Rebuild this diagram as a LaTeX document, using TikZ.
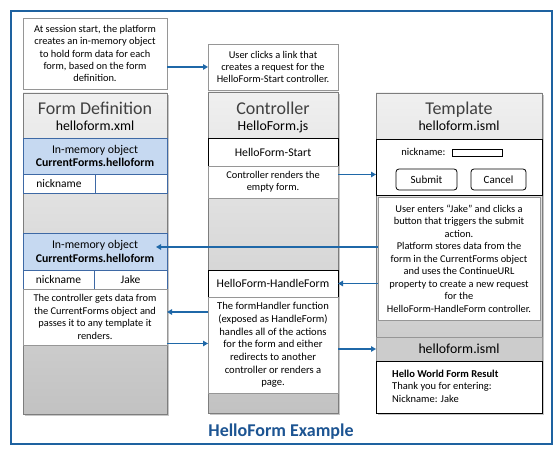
\documentclass[tikz,border=0pt]{standalone}
\usepackage{fontspec}
\setmainfont{Carlito}
\usetikzlibrary{arrows.meta,calc}
\definecolor{frameblue}{RGB}{30,98,160}
\definecolor{arrowblue}{RGB}{31,104,168}
\definecolor{captblue}{RGB}{28,84,146}
\definecolor{lightblue}{RGB}{198,217,241}
\definecolor{blueedge}{RGB}{62,105,165}
\definecolor{coledge}{RGB}{125,125,125}
\definecolor{boxedge}{RGB}{150,150,150}
\definecolor{hdrtext}{RGB}{64,64,64}
\newcommand\mybox[7]{\node[#6, anchor=north west, outer sep=0pt, inner sep=0pt,
  minimum width={(#4)-(#2)}, minimum height={(#5)-(#3)}] (#1) at (#2,#3) {#7};}
\begin{document}
\begin{tikzpicture}[x=1pt,y=-1pt,
  txt/.style={align=center, font=\fontsize{10.4}{12.4}\selectfont},
  wbox/.style={draw=boxedge, line width=0.7pt, fill=white, txt},
  bbox/.style={draw=blueedge, line width=0.8pt, fill=lightblue, align=center, font=\fontsize{11.8}{13.2}\selectfont},
  bcell/.style={draw=blueedge, line width=0.8pt, fill=white, font=\fontsize{11.5}{13}\selectfont},
  kbox/.style={draw=black, line width=0.9pt, fill=white, font=\fontsize{11.8}{13}\selectfont},
  column/.style={draw=coledge, line width=0.8pt, top color=black!6, bottom color=black!24},
  colshadow/.style={fill=black!22, draw=none},
  hdr/.style={anchor=base, text=hdrtext, font=\fontsize{18}{20}\selectfont},
  hdrsub/.style={anchor=base, font=\fontsize{13.8}{15}\selectfont},
  btn/.style={draw=black, line width=0.8pt, rounded corners=3pt, fill=white, font=\fontsize{11}{13}\selectfont},
  arr/.style={draw=arrowblue, line width=1.3pt, -{Triangle[length=5pt,width=5.5pt]}}
]
\useasboundingbox (0,0) rectangle (560,454);
% outer frame
\mybox{frame}{11}{11}{552}{444}{draw=frameblue, line width=2.2pt}{}
\node[anchor=base, text=captblue, font=\bfseries\fontsize{18}{20}\selectfont] (caption) at (281,437) {HelloForm Example};

% top text boxes
\mybox{tl}{23}{18}{167}{89}{wbox}{At session start, the platform\\creates an in-memory object\\to hold form data for each\\form, based on the form\\definition.}
\mybox{ctop}{208}{44}{338}{90}{wbox}{User clicks a link that\\creates a request for the\\HelloForm-Start controller.}

% column shadows
\mybox{fdsh}{25}{95}{169}{416}{colshadow}{}
\mybox{csh}{210}{94}{340}{415}{colshadow}{}
\mybox{tsh}{378}{95}{544}{415}{colshadow}{}

% columns
\mybox{fdcol}{23}{93}{167}{414}{column}{}
\mybox{ccol}{208}{92}{338}{413}{column}{}
\mybox{tcol}{376}{93}{542}{413}{column}{}

% ---------- Form Definition ----------
\node[hdr] (fdtitle) at (95,115) {Form Definition};
\node[hdrsub] (fdfile) at (95,131) {helloform.xml};
\mybox{fdmem1}{23}{138}{167}{174}{bbox}{In-memory object\\\textbf{CurrentForms.helloform}}
\mybox{fdn1a}{23}{174}{95}{193}{bcell}{nickname}
\mybox{fdn1b}{95}{174}{167}{193}{bcell}{}
\mybox{fdmem2}{23}{233}{167}{270}{bbox}{In-memory object\\\textbf{CurrentForms.helloform}}
\mybox{fdn2a}{23}{270}{94}{289}{bcell}{nickname}
\mybox{fdn2b}{94}{270}{167}{289}{bcell}{Jake}
\mybox{fdtext}{23}{289}{167}{345}{wbox}{The controller gets data from\\the CurrentForms object and\\passes it to any template it\\renders.}

% ---------- Controller ----------
\node[hdr] (ctitle) at (273,115) {Controller};
\node[hdrsub] (cfile) at (273,131) {HelloForm.js};
\mybox{cstart}{208}{138}{338}{166}{kbox}{HelloForm-Start}
\mybox{crender}{208}{166}{338}{198}{wbox}{Controller renders the\\empty form.}
\mybox{chandle}{208}{270}{338}{297}{kbox}{HelloForm-HandleForm}
\mybox{ctext}{208}{297}{338}{393}{wbox, font=\fontsize{10.6}{12.7}\selectfont}{The formHandler function\\(exposed as HandleForm)\\handles all of the actions\\for the form and either\\redirects to another\\controller or renders a\\page.}

% ---------- Template ----------
\node[hdr] (ttitle) at (459,115) {Template};
\node[hdrsub] (tfile) at (459,131) {helloform.isml};
\mybox{tform}{376}{139}{542}{195}{draw=black, line width=0.9pt, fill=white}{}
\node[font=\fontsize{10.5}{12}\selectfont, anchor=base east] (tnick) at (449,156) {nickname:};
\mybox{tinput}{452}{149}{502}{156}{draw=black, line width=0.6pt, fill=white}{}
\mybox{tsubmit}{396}{169}{457}{190}{btn}{Submit}
\mybox{tcancel}{471}{169}{526}{190}{btn}{Cancel}
\mybox{ttext}{378}{197}{540}{320}{wbox, font=\fontsize{10.4}{12.5}\selectfont}{User enters “Jake” and clicks a\\button that triggers the submit\\action.\\Platform stores data from the\\form in the CurrentForms object\\and uses the ContinueURL\\property to create a new request\\for the\\HelloForm-HandleForm controller.}
\mybox{tihdr}{376}{337}{542}{361}{draw=boxedge, line width=0.6pt, fill=black!20, font=\fontsize{13.8}{15}\selectfont}{helloform.isml}
\mybox{tresult}{376}{361}{542}{413}{draw=black, line width=0.9pt, fill=white}{}
\node[anchor=north west, inner sep=0pt, align=left, font=\fontsize{10.5}{12.6}\selectfont] (tres) at (392,369.5) {\textbf{Hello World Form Result}\\Thank you for entering:\\Nickname: Jake};

% ---------- connectors ----------
\draw[arr] (tl.east |- ctop.west) -- (ctop.west);
\coordinate (y174) at (0,174.5);
\draw[arr] (crender.east |- y174) -- (tform.west |- y174);
\coordinate (y247) at (0,247);
\coordinate (x156) at (156,0);
\draw[arr] (ttext.west |- y247) -- (x156 |- y247);
\draw[arr] (ttext.west |- chandle.east) -- (chandle.east);
\coordinate (y312) at (0,312);
\draw[arr] (ctext.west |- y312) -- (fdtext.east |- y312);
\coordinate (y343) at (0,343.5);
\draw[arr] (fdtext.east |- y343) -- (ctext.west |- y343);
\draw[arr] (ctext.east |- tihdr.west) -- (tihdr.west);
\end{tikzpicture}
\end{document}
